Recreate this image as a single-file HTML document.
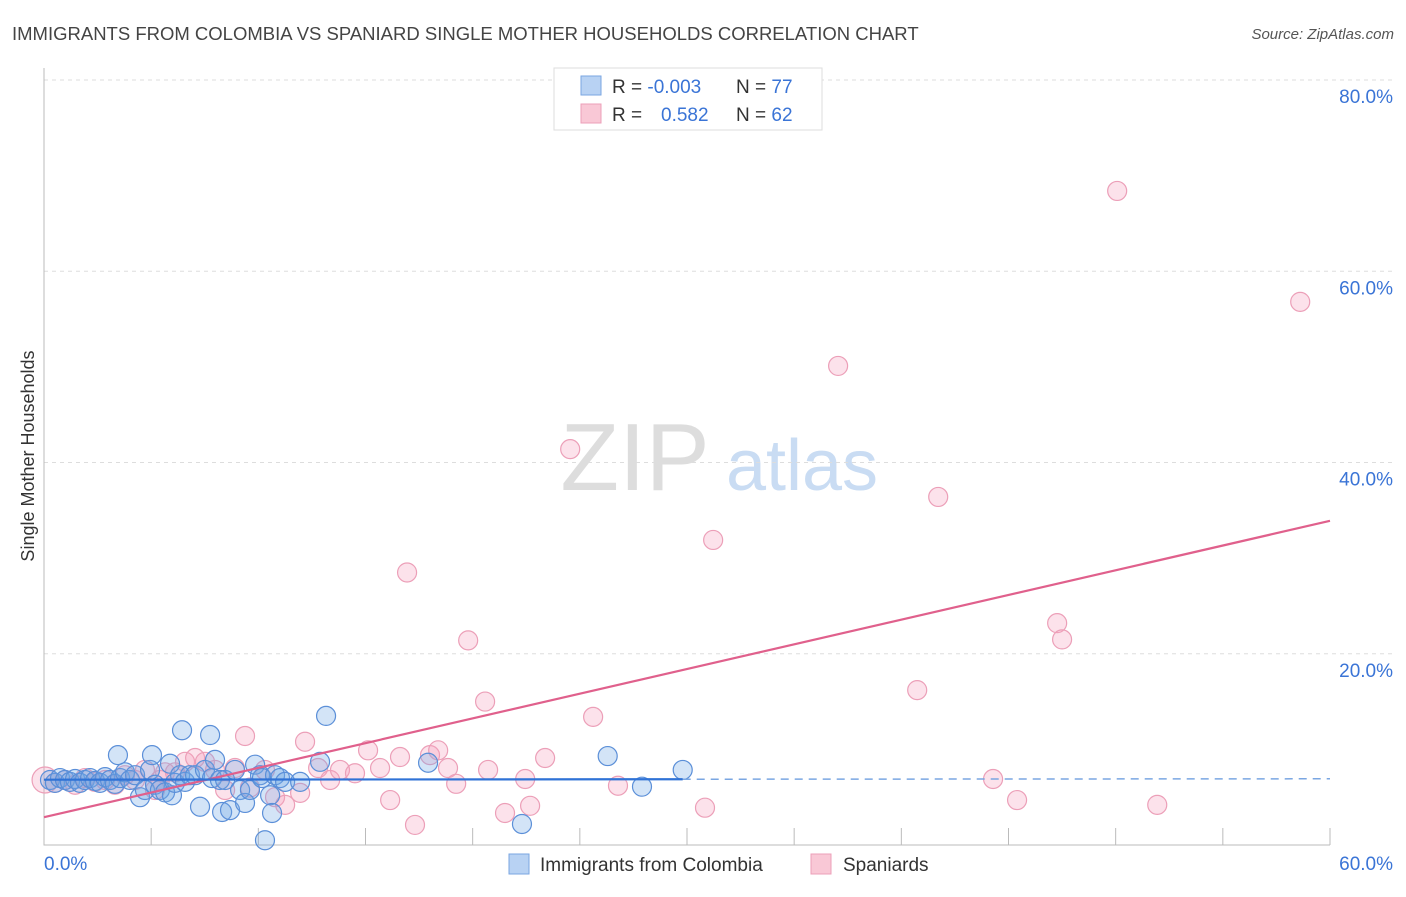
<!DOCTYPE html>
<html><head><meta charset="utf-8"><style>
body{margin:0;background:#fff;font-family:"Liberation Sans",sans-serif;}
svg text{font-family:"Liberation Sans",sans-serif;}
</style></head><body>
<svg id="chart" width="1406" height="892">
<text x="12" y="40" font-size="18.5" fill="#444">IMMIGRANTS FROM COLOMBIA VS SPANIARD SINGLE MOTHER HOUSEHOLDS CORRELATION CHART</text>
<text x="1394" y="39" font-size="15" fill="#555" font-style="italic" text-anchor="end">Source: ZipAtlas.com</text>
<text transform="translate(34,456) rotate(-90)" font-size="18" fill="#333" text-anchor="middle">Single Mother Households</text>
<g>
<text x="635" y="490" font-size="96" fill="#ddd" font-family="Liberation Serif,serif" text-anchor="middle">ZIP</text>
<text x="802" y="490" font-size="72" fill="#c9dcf3" text-anchor="middle">atlas</text>
</g>
<g id="grid"></g><g id="axes"></g><g id="marks"></g>
<g>
<rect x="554" y="68" width="268" height="62" fill="#fff" stroke="#ddd"/>
<rect x="581" y="76" width="20" height="19" fill="#b8d2f3" stroke="#7aa6e2"/>
<rect x="581" y="104" width="20" height="19" fill="#f9c8d6" stroke="#ec9fb8"/>
<text x="612" y="93" font-size="19" fill="#333">R = <tspan fill="#3a74d6">-0.003</tspan></text>
<text x="736" y="93" font-size="19" fill="#333">N = <tspan fill="#3a74d6">77</tspan></text>
<text x="612" y="121" font-size="19" fill="#333">R = <tspan fill="#3a74d6" x="661">0.582</tspan></text>
<text x="736" y="121" font-size="19" fill="#333">N = <tspan fill="#3a74d6">62</tspan></text>
</g>
<g>
<rect x="509" y="854" width="20" height="20" fill="#b8d2f3" stroke="#7aa6e2"/>
<text x="540" y="871" font-size="19" fill="#333">Immigrants from Colombia</text>
<rect x="811" y="854" width="20" height="20" fill="#f9c8d6" stroke="#ec9fb8"/>
<text x="843" y="871" font-size="19" fill="#333">Spaniards</text>
</g>
</svg>
<script>
const yTicks=[20,40,60,80];
const yTickLabels=["20.0%","40.0%","60.0%","80.0%"];
const xTickLabels=["0.0%","60.0%"];
const blueX=[0.28,0.51,0.75,0.98,1.21,1.45,1.68,1.91,2.15,2.38,2.61,2.85,3.08,3.31,3.45,3.55,3.78,4.01,4.25,4.48,4.71,4.95,5.04,5.18,5.41,5.65,5.88,5.97,6.11,6.35,6.44,6.58,6.81,7.05,7.28,7.51,7.75,7.84,7.98,8.21,8.31,8.45,8.68,8.91,9.15,9.38,9.61,9.85,10.08,10.17,10.31,10.55,10.64,10.78,11.01,11.25,11.95,12.88,13.16,17.92,22.3,26.3,27.9,29.8];
const blueY=[6.8,6.5,7.0,6.8,6.6,6.9,6.5,6.8,7.0,6.7,6.5,7.1,6.8,6.4,9.4,7.0,7.6,6.8,7.3,5.0,5.75,7.85,9.4,6.3,5.75,5.5,8.5,5.2,6.5,7.3,12.0,6.6,7.3,7.3,4.0,7.85,11.5,7.0,8.9,6.8,3.45,6.8,3.65,7.85,5.75,4.4,5.75,8.4,7.3,7.0,0.5,5.2,3.35,7.3,7.0,6.6,6.6,8.7,13.5,8.6,2.2,9.3,6.1,7.85];
const pinkX=[0.05,0.51,0.98,1.45,1.91,2.38,2.85,3.31,3.78,4.25,4.71,5.18,5.41,5.65,6.11,6.58,7.05,7.51,7.98,8.45,8.91,9.38,9.61,10.31,10.78,11.25,11.95,12.18,12.79,13.35,13.81,14.51,15.12,15.68,16.15,16.61,16.94,17.31,18.01,18.39,18.85,19.23,19.79,20.58,20.72,21.51,22.45,22.68,23.38,24.55,25.62,26.78,30.84,31.22,37.05,40.74,41.72,44.28,45.4,47.27,47.5,50.07,51.94,58.61];
const pinkY=[6.8,6.5,6.8,6.3,7.0,6.6,6.8,6.3,7.3,6.8,7.85,5.75,6.8,7.6,7.6,8.7,9.1,8.7,7.85,5.75,8.05,11.4,6.0,7.85,5.0,4.2,5.45,10.8,8.05,6.8,7.85,7.5,9.9,8.05,4.7,9.2,28.5,2.1,9.4,9.9,8.05,6.4,21.4,15.0,7.85,3.35,6.9,4.1,9.1,41.4,13.4,6.2,3.9,31.9,50.1,16.2,36.4,6.9,4.7,23.2,21.5,68.4,4.2,56.8];
const NS='http://www.w3.org/2000/svg';
const X0=44,X1=1330,Y0=845,Y80=80;
const sx=v=>X0+(X1-X0)*v/60;
const sy=v=>Y0-(Y0-Y80)*v/80;
function mk(tag,attrs,parent){const e=document.createElementNS(NS,tag);for(const k in attrs)e.setAttribute(k,attrs[k]);document.getElementById(parent).appendChild(e);return e;}
yTicks.forEach((t,i)=>{
 const g=mk('line',{x1:X0,x2:1394,y1:sy(t),y2:sy(t),stroke:'#ddd','stroke-dasharray':'4,4'},'grid');
 
 
 const l=mk('text',{x:1393,y:sy(t)+23,'font-size':19,fill:'#3a74d6','text-anchor':'end'},'axes');
 l.textContent=yTickLabels[i];
 
 
});
const ax=mk('path',{d:`M${X0},68V${Y0}H${X1}`,stroke:'#bbb',fill:'none'},'axes');


for(let v=5;v<=60;v+=5){const t=mk('line',{x1:sx(v),x2:sx(v),y1:Y0-17,y2:Y0,stroke:'#bbb'},'axes');
 
 }
const xl0=mk('text',{x:44,y:870,'font-size':19,fill:'#3a74d6'},'axes');xl0.textContent=xTickLabels[0];


const xl1=mk('text',{x:1393,y:870,'font-size':19,fill:'#3a74d6','text-anchor':'end'},'axes');xl1.textContent=xTickLabels[1];


function fit(xs,ys){const n=xs.length;let mx=0,my=0;for(let i=0;i<n;i++){mx+=xs[i];my+=ys[i];}mx/=n;my/=n;let a=0,b=0;for(let i=0;i<n;i++){a+=(xs[i]-mx)*(ys[i]-my);b+=(xs[i]-mx)**2;}const s=a/b;return [my-s*mx,s];}
pinkX.forEach((x,i)=>{const c=mk('circle',{cx:sx(x),cy:sy(pinkY[i]),r:i==0?13:9.5,fill:'rgba(245,160,190,0.3)',stroke:'#ec9fb8','stroke-width':1.2},'marks');
 
 });
blueX.forEach((x,i)=>{const c=mk('circle',{cx:sx(x),cy:sy(blueY[i]),r:9.5,fill:'rgba(110,165,230,0.3)',stroke:'#5b8fd8','stroke-width':1.2},'marks');
 
 });
const [pb,ps]=fit(pinkX,pinkY);
const pl=mk('line',{x1:sx(0),y1:sy(pb),x2:sx(60),y2:sy(pb+ps*60),stroke:'#e0608c','stroke-width':2.2},'marks');


const [bb,bs]=fit(blueX,blueY);const bmax=Math.max(...blueX);
const bl=mk('line',{x1:sx(0),y1:sy(bb),x2:sx(bmax),y2:sy(bb+bs*bmax),stroke:'#2f72d6','stroke-width':2.2},'marks');


const bd=mk('line',{x1:sx(bmax),y1:sy(bb+bs*bmax),x2:sx(60),y2:sy(bb+bs*60),stroke:'#7aa6e2','stroke-width':1.5,'stroke-dasharray':'8,6'},'marks');


</script>
</body></html>
